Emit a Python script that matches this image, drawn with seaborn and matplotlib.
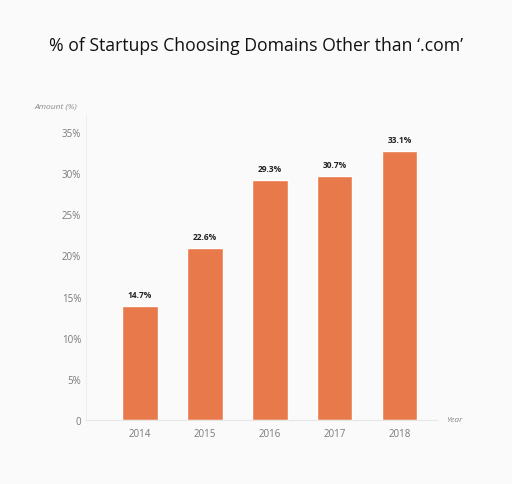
import matplotlib
matplotlib.use("Agg")
import matplotlib.pyplot as plt
import seaborn as sns
import pandas as pd

# --- Dados ---
years = ["2014", "2015", "2016", "2017", "2018"]
bar_heights = [13.8, 20.9, 29.2, 29.6, 32.65]   # altura desenhada das barras
bar_labels = ["14.7%", "22.6%", "29.3%", "30.7%", "33.1%"]  # texto acima das barras
y_ticks = [0, 5, 10, 15, 20, 25, 30, 35]
y_tick_labels = ["0", "5%", "10%", "15%", "20%", "25%", "30%", "35%"]

df = pd.DataFrame({"Year": years, "Amount": bar_heights})

bg = "#fafafa"
bar_color = "#e8794b"
tick_color = "#7a7a7a"

sns.set_theme(style="white")
plt.rcParams["font.family"] = ["Open Sans", "DejaVu Sans"]

fig = plt.figure(figsize=(5.12, 4.85), dpi=100, facecolor=bg)
ax = fig.add_axes([0.168, 0.132, 0.6855, 0.629])
ax.set_facecolor(bg)

sns.barplot(data=df, x="Year", y="Amount", color=bar_color, width=0.54,
            saturation=1, ax=ax)

for i, (h, lab) in enumerate(zip(bar_heights, bar_labels)):
    ax.annotate(lab, (i, h), xytext=(0, 5), textcoords="offset points",
                ha="center", va="bottom", fontsize=6, fontweight="bold",
                color="#222222")

ax.set_xlim(-0.83, 4.57)
ax.set_ylim(0, 37.06)
ax.set_yticks(y_ticks)
ax.set_yticklabels(y_tick_labels)
ax.tick_params(axis="both", length=0, labelsize=7, labelcolor=tick_color)
ax.tick_params(axis="y", pad=3.5)
ax.tick_params(axis="x", pad=6)
ax.set_xlabel("")
ax.set_ylabel("")

for s in ["top", "right"]:
    ax.spines[s].set_visible(False)
ax.spines["left"].set_color("#eeeeee")
ax.spines["bottom"].set_color("#e6e6e6")
ax.spines["left"].set_linewidth(0.8)
ax.spines["bottom"].set_linewidth(0.8)

fig.text(0.5, 0.905, "% of Startups Choosing Domains Other than \u2018.com\u2019",
         ha="center", va="center", fontsize=12.7, color="#111111",
         fontweight="medium")
fig.text(0.151, 0.779, "Amount (%)", ha="right", va="center", fontsize=6,
         style="italic", color="#888888")
fig.text(0.871, 0.132, "Year", ha="left", va="center", fontsize=6,
         style="italic", color="#888888")

fig.savefig("out.png", dpi=100, facecolor=bg)
